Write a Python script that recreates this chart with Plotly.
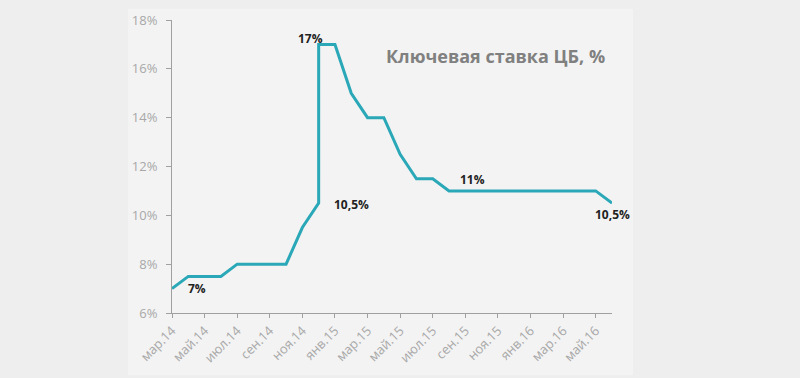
import plotly.graph_objects as go

# Data
months = ["мар.14", "апр.14", "май.14", "июн.14", "июл.14", "авг.14", "сен.14", "окт.14",
          "ноя.14", "дек.14", "дек.14", "янв.15", "фев.15", "мар.15", "апр.15", "май.15",
          "июн.15", "июл.15", "авг.15", "сен.15", "окт.15", "ноя.15", "дек.15", "янв.16",
          "фев.16", "мар.16", "апр.16", "май.16", "июн.16"]
rates = [7, 7.5, 7.5, 7.5, 8, 8, 8, 8,
         9.5, 10.5, 17, 17, 15, 14, 14, 12.5,
         11.5, 11.5, 11, 11, 11, 11, 11, 11,
         11, 11, 11, 11, 10.5]
tick_labels = ["мар.14", "май.14", "июл.14", "сен.14", "ноя.14", "янв.15", "мар.15",
               "май.15", "июл.15", "сен.15", "ноя.15", "янв.16", "мар.16", "май.16"]
y_ticks = [6, 8, 10, 12, 14, 16, 18]
title_text = "Ключевая ставка ЦБ, %"

# annotations: (month, value, text, dx, dy)
point_labels = [("мар.14", 7, "7%", 25, 0),
                ("дек.14", 17, "17%", -8, -6),
                ("дек.14", 10.5, "10,5%", 33, 1),
                ("сен.15", 11, "11%", 7, -11),
                ("июн.16", 10.5, "10,5%", 0, 11)]

line_color = "#2aa8b8"
font_family = "Open Sans, Liberation Sans, sans-serif"

fig = go.Figure()
fig.add_trace(go.Scatter(x=months, y=rates, mode="lines",
                         line=dict(color=line_color, width=3), hoverinfo="skip"))

for m, v, t, dx, dy in point_labels:
    fig.add_annotation(x=m, y=v, text="<b>%s</b>" % t, showarrow=False,
                       xshift=dx, yshift=-dy, font=dict(size=12, color="#222222", family=font_family))

fig.add_annotation(xref="paper", yref="paper", x=(495.5 - 172) / 440, y=(313 - 56) / 293,
                   xanchor="center", yanchor="middle",
                   text="<b>%s</b>" % title_text, showarrow=False,
                   font=dict(size=18, color="#808080", family=font_family))

# light panel
fig.add_shape(type="rect", xref="paper", yref="paper", layer="below",
              x0=(128 - 172) / 440, x1=(633 - 172) / 440,
              y0=(313 - 375) / 293, y1=(313 - 9) / 293,
              fillcolor="#f3f3f3", line=dict(width=0))

fig.update_layout(
    width=800, height=378,
    margin=dict(l=172, r=188, t=20, b=65),
    paper_bgcolor="#eeeeee", plot_bgcolor="rgba(0,0,0,0)",
    showlegend=False,
    font=dict(family=font_family),
)
fig.update_xaxes(type="category", range=[0, 27], tickmode="array", automargin=False,
                 tickvals=tick_labels, ticktext=tick_labels, tickangle=-45,
                 showgrid=False, zeroline=False, showline=True, linecolor="#a0a0a0", linewidth=1,
                 ticks="outside", ticklen=4, tickcolor="#a0a0a0",
                 tickfont=dict(size=13, color="#a8a8a8"))
fig.update_yaxes(range=[6, 18], tickvals=y_ticks, ticktext=["%d%%" % v for v in y_ticks],
                 automargin=False,
                 showgrid=False, zeroline=False, showline=True, linecolor="#a0a0a0", linewidth=1,
                 ticks="outside", ticklen=5, tickcolor="#a0a0a0", ticklabelstandoff=6,
                 tickfont=dict(size=13, color="#a8a8a8"))

fig.write_html("out.html", config={"displayModeBar": False},
               post_script="document.body.style.margin='0';document.body.style.background='#eeeeee';")
